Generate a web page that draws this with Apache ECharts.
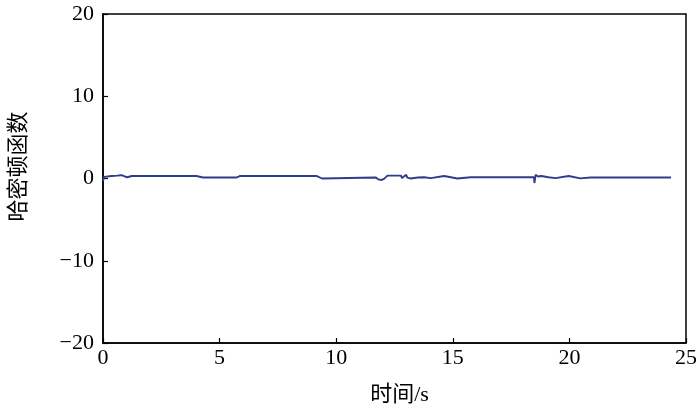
<!DOCTYPE html>
<html>
<head>
<meta charset="utf-8">
<script src="https://cdn.jsdelivr.net/npm/echarts@6/dist/echarts.min.js"></script>
<style>
  html, body { margin: 0; padding: 0; background: #fff; }
  #chart { width: 700px; height: 416px; }
</style>
</head>
<body>
<div id="chart"></div>
<script>
// 时间 (s) 与 哈密顿函数 值，读图估计
const timeData = [0, 0.05, 0.1, 0.38, 0.6, 0.8, 1.03, 1.24, 4.0, 4.3, 4.68, 4.73, 4.78, 5.73, 5.86,
  9.15, 9.39, 9.45, 11.7, 11.8, 11.95, 12.05, 12.1, 12.2, 12.78, 12.82, 13.0, 13.05, 13.2, 13.5,
  13.77, 14.06, 14.63, 15.2, 15.77, 16.6, 18.48, 18.5, 18.55, 18.65, 18.8, 19.1, 19.4, 19.97,
  20.47, 20.9, 24.36];
const hamiltonData = [-0.3, 0.2, 0.1, 0.3, 0.35, 0.4, 0.15, 0.3, 0.3, 0.12, 0.12, 0.35, 0.12, 0.12, 0.3,
  0.32, 0.0, 0.12, 0.12, -0.1, -0.18, -0.05, -0.15, 0.35, 0.35, 0.05, 0.45, 0.1, 0.0, 0.12,
  0.15, 0.05, 0.3, 0.0, 0.15, 0.15, 0.15, -0.55, 0.45, 0.25, 0.3, 0.15, 0.05, 0.3,
  0.02, 0.12, 0.12];
const xTicks = [0, 5, 10, 15, 20, 25];
const yTicks = [-20, -10, 0, 10, 20];

const font = "'Liberation Serif', 'Noto Sans CJK SC', serif";
const minus = v => String(v).replace('-', '\u2212');
const chart = echarts.init(document.getElementById('chart'));

const option = {
  animation: false,
  grid: {
    left: 101, right: 14, top: 14, bottom: 73,
    show: true, borderColor: '#000', borderWidth: 1.5
  },
  xAxis: {
    type: 'value',
    min: xTicks[0],
    max: xTicks[xTicks.length - 1],
    interval: 5,
    name: '时间/s',
    nameLocation: 'middle',
    nameGap: 41,
    nameTextStyle: { fontFamily: font, fontSize: 22, color: '#000', padding: [0, 0, 0, 10] },
    axisLine: { show: true, onZero: false, lineStyle: { color: '#000', width: 1.5 } },
    axisTick: { show: true, inside: true, length: 5, lineStyle: { color: '#000', width: 1.2 } },
    axisLabel: { fontFamily: font, fontSize: 22, color: '#000', margin: 4 },
    splitLine: { show: false }
  },
  yAxis: {
    type: 'value',
    min: yTicks[0],
    max: yTicks[yTicks.length - 1],
    interval: 10,
    name: '哈密顿函数',
    nameLocation: 'middle',
    nameGap: 73,
    nameRotate: 90,
    nameTextStyle: { fontFamily: font, fontSize: 22, color: '#000', padding: [0, 0, 0, 24] },
    axisLine: { show: true, lineStyle: { color: '#000', width: 1.5 } },
    axisTick: { show: true, inside: true, length: 5, lineStyle: { color: '#000', width: 1.2 } },
    axisLabel: { fontFamily: font, fontSize: 22, color: '#000', margin: 9, formatter: minus },
    splitLine: { show: false }
  },
  series: [{
    type: 'line',
    data: timeData.map((t, i) => [t, hamiltonData[i]]),
    showSymbol: false,
    lineStyle: { color: '#2f3c8c', width: 1.9 }
  }]
};
chart.setOption(option);
</script>
</body>
</html>
